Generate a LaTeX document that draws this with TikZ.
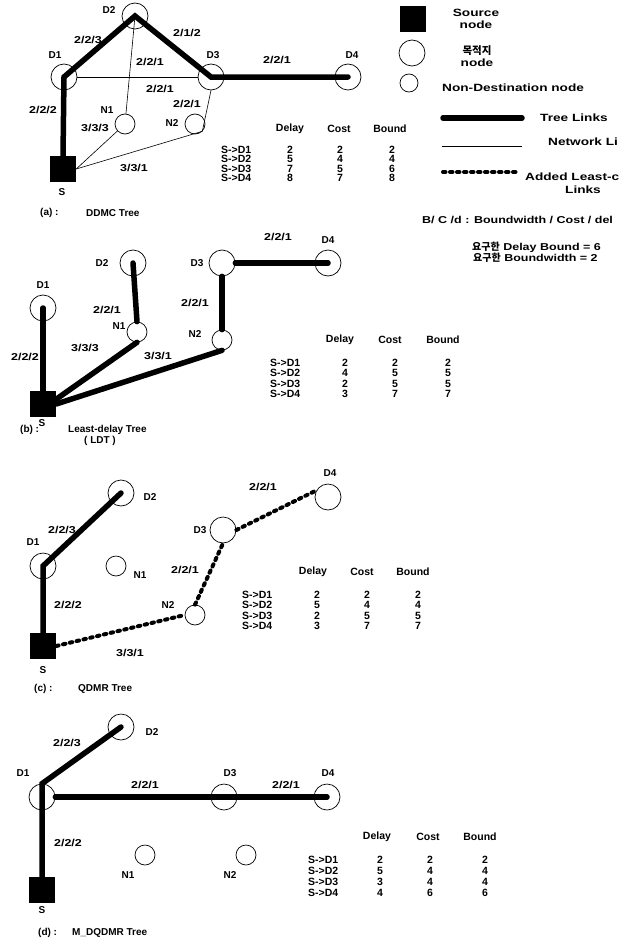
\documentclass[tikz,border=0pt]{standalone}
\usepackage{fontspec}
\setmainfont{Liberation Sans}
\newfontfamily\widefont[FakeStretch=1.25]{Liberation Sans}
\newfontfamily\legfont[FakeStretch=1.3]{Liberation Sans}
\newfontfamily\kofont{Noto Sans CJK KR}

\tikzset{
  dest/.style={circle, draw, line width=0.7pt, minimum size=26pt, inner sep=0pt},
  nondest/.style={circle, draw, line width=0.7pt, minimum size=20pt, inner sep=0pt},
  source/.style={rectangle, fill=black, minimum size=26pt, inner sep=0pt},
  tree link/.style={line width=5.5pt, line cap=round},
  net link/.style={line width=0.6pt},
  added link/.style={line width=4pt, line cap=round, dash pattern=on 2.5pt off 4.5pt},
  nname/.style={font=\bfseries\fontsize{10}{12}\selectfont, inner sep=1pt},
  wlabel/.style={font=\widefont\bfseries\fontsize{10}{12}\selectfont, inner sep=1pt},
  lgtext/.style={font=\legfont\bfseries\fontsize{10.5}{12.5}\selectfont, inner sep=1pt},
  tabtxt/.style={font=\bfseries\fontsize{10.5}{12}\selectfont, inner sep=0pt},
  capt/.style={font=\bfseries\fontsize{10}{12}\selectfont, anchor=west, inner sep=0pt}
}

\begin{document}
\begin{tikzpicture}[x=1pt, y=-1pt]
  \useasboundingbox (0,0) rectangle (622,942);
  \clip (0,0) rectangle (622,942);

  % legend
  \node[source] (lgs) at (413,19) {};
  \node[lgtext, align=center] (lgst) at (476,19) {Source\\node};
  \node[dest] (lgd) at (412,53) {};
  \node[lgtext, align=center] (lgdt) at (477,56) {{\kofont\bfseries 목적지}\\node};
  \node[nondest, minimum size=18pt] (lgn) at (409,83) {};
  \node[lgtext, anchor=west] (lgnt) at (441,88) {Non-Destination node};
  \coordinate (lgt1) at (443,118);
  \coordinate (lgt2) at (522,118);
  \draw[tree link] (lgt1) -- (lgt2);
  \node[lgtext, anchor=west] (lgtt) at (539,118) {Tree Links};
  \coordinate (lgw1) at (442,146);
  \coordinate (lgw2) at (522,146);
  \draw[net link] (lgw1) -- (lgw2);
  \node[lgtext, anchor=west] (lgwt) at (547,142) {Network Li};
  \coordinate (lga1) at (443,172);
  \coordinate (lga2) at (518,172);
  \draw[added link] (lga1) -- (lga2);
  \node[lgtext, anchor=west] (lgat) at (524,177) {Added Least-c};
  \node[lgtext] (lgat2) at (583,190) {Links};
  \node[wlabel, anchor=west] (lgbcd) at (421,220) {B/ C /d : Boundwidth / Cost / del};
  \node[wlabel, anchor=west] (reqd) at (471,247) {{\kofont\bfseries 요구한} Delay Bound = 6};
  \node[wlabel, anchor=west] (reqb) at (472,258) {{\kofont\bfseries 요구한} Boundwidth = 2};

  % (a) DDMC tree
  \node[dest] (ad1) at (64,77) {};
  \node[dest] (ad2) at (135,16) {};
  \node[dest] (ad3) at (211,77) {};
  \node[dest] (ad4) at (348,77) {};
  \node[nondest] (an1) at (125,124) {};
  \node[nondest] (an2) at (195,124) {};
  \node[source] (as) at (63,169) {};
  \node[nname] (ad1t) at (55,55) {D1};
  \node[nname] (ad2t) at (109,10) {D2};
  \node[nname] (ad3t) at (213,55) {D3};
  \node[nname] (ad4t) at (352,55) {D4};
  \node[nname] (an1t) at (107,110) {N1};
  \node[nname] (an2t) at (172,123) {N2};
  \node[nname] (ast) at (62,192) {S};
  \draw[net link] (ad1) -- (ad3);
  \draw[net link] (ad2.center) -- (an1);
  \draw[net link] (an1) -- (as.east);
  \draw[net link] (as.east) -- (an2.south east) -- (ad3.south);
  \draw[tree link] (as.north) -- (ad1.center) -- (ad2.center) -- (ad3.center) -- (ad4.center);
  \node[wlabel] (al1) at (88,40) {2/2/3};
  \node[wlabel] (al2) at (187,33) {2/1/2};
  \node[wlabel] (al3) at (150,62) {2/2/1};
  \node[wlabel] (al4) at (160,89) {2/2/1};
  \node[wlabel] (al5) at (277,60) {2/2/1};
  \node[wlabel] (al6) at (187,104) {2/2/1};
  \node[wlabel] (al7) at (43,110) {2/2/2};
  \node[wlabel] (al8) at (95,128) {3/3/3};
  \node[wlabel] (al9) at (134,168) {3/3/1};
  \node[tabtxt] (ahd) at (290,129) {Delay};
  \node[tabtxt] (ahc) at (339,129) {Cost};
  \node[tabtxt] (ahb) at (390,129) {Bound};
  \foreach \dst/\dl/\co/\bd [count=\i] in {D1/2/2/2, D2/5/4/4, D3/7/5/6, D4/8/7/8} {
    \node[tabtxt, anchor=west] (ar\i) at (221,{140+9.5*\i}) {S->\dst};
    \node[tabtxt] (ard\i) at (290,{140+9.5*\i}) {\dl};
    \node[tabtxt] (arc\i) at (340,{140+9.5*\i}) {\co};
    \node[tabtxt] (arb\i) at (392,{140+9.5*\i}) {\bd};
  }
  \node[capt] (acap) at (40,213) {(a) :};
  \node[capt] (acapt) at (86,213) {DDMC Tree};

  % (b) least-delay tree
  \node[dest] (bd1) at (43,308) {};
  \node[dest] (bd2) at (133,263) {};
  \node[dest] (bd3) at (222,263) {};
  \node[dest] (bd4) at (328,263) {};
  \node[nondest] (bn1) at (137,332) {};
  \node[nondest] (bn2) at (222,340) {};
  \node[source] (bs) at (43,404) {};
  \node[nname] (bd1t) at (43,285) {D1};
  \node[nname] (bd2t) at (102,263) {D2};
  \node[nname] (bd3t) at (197,263) {D3};
  \node[nname] (bd4t) at (328,240) {D4};
  \node[nname] (bn1t) at (119,326) {N1};
  \node[nname] (bn2t) at (195,334) {N2};
  \node[nname] (bst) at (42,423) {S};
  \draw[tree link] (bs.north) -- (bd1.center);
  \draw[tree link] (bs.20) -- (bn1.south);
  \draw[tree link] (bs.east) -- (bn2.south);
  \draw[tree link] (bn1.north) -- (bd2.center);
  \draw[tree link] (bn2.north) -- (bd3.south);
  \draw[tree link] (bd3.east) -- (bd4.center);
  \node[wlabel] (bl1) at (25,357) {2/2/2};
  \node[wlabel] (bl2) at (85,348) {3/3/3};
  \node[wlabel] (bl3) at (158,356) {3/3/1};
  \node[wlabel] (bl4) at (107,310) {2/2/1};
  \node[wlabel] (bl5) at (195,303) {2/2/1};
  \node[wlabel] (bl6) at (278,237) {2/2/1};
  \node[tabtxt] (bhd) at (340,340) {Delay};
  \node[tabtxt] (bhc) at (390,340) {Cost};
  \node[tabtxt] (bhb) at (443,340) {Bound};
  \foreach \dst/\dl/\co/\bd [count=\i] in {D1/2/2/2, D2/4/5/5, D3/2/5/5, D4/3/7/7} {
    \node[tabtxt, anchor=west] (br\i) at (270,{352+10.5*\i}) {S->\dst};
    \node[tabtxt] (brd\i) at (345,{352+10.5*\i}) {\dl};
    \node[tabtxt] (brc\i) at (395,{352+10.5*\i}) {\co};
    \node[tabtxt] (brb\i) at (448,{352+10.5*\i}) {\bd};
  }
  \node[capt] (bcap) at (20,430) {(b) :};
  \node[capt] (bcapt) at (68,430) {Least-delay Tree};
  \node[capt, anchor=center] (bcapt2) at (100,441) {( LDT )};

  % (c) QDMR tree
  \node[dest] (cd1) at (43,566) {};
  \node[dest] (cd2) at (121,493) {};
  \node[dest] (cd3) at (223,530) {};
  \node[dest] (cd4) at (328,497) {};
  \node[nondest] (cn1) at (116,566) {};
  \node[nondest] (cn2) at (195,615) {};
  \node[source] (cs) at (43,646) {};
  \node[nname] (cd1t) at (33,542) {D1};
  \node[nname] (cd2t) at (150,497) {D2};
  \node[nname] (cd3t) at (200,530) {D3};
  \node[nname] (cd4t) at (330,473) {D4};
  \node[nname] (cn1t) at (140,575) {N1};
  \node[nname] (cn2t) at (168,605) {N2};
  \node[nname] (cst) at (43,670) {S};
  \draw[tree link] (cs.north) -- (cd1.center) -- (cd2.center);
  \draw[added link] (cs.east) -- (cn2.west);
  \draw[added link] (cn2.north) -- (cd3.south);
  \draw[added link] (cd3.east) -- (cd4.150);
  \node[wlabel] (cl1) at (62,530) {2/2/3};
  \node[wlabel] (cl2) at (68,605) {2/2/2};
  \node[wlabel] (cl3) at (130,653) {3/3/1};
  \node[wlabel] (cl4) at (185,570) {2/2/1};
  \node[wlabel] (cl5) at (263,487) {2/2/1};
  \node[tabtxt] (chd) at (313,572) {Delay};
  \node[tabtxt] (chc) at (362,572) {Cost};
  \node[tabtxt] (chb) at (413,572) {Bound};
  \foreach \dst/\dl/\co/\bd [count=\i] in {D1/2/2/2, D2/5/4/4, D3/2/5/5, D4/3/7/7} {
    \node[tabtxt, anchor=west] (cr\i) at (242,{584+10.5*\i}) {S->\dst};
    \node[tabtxt] (crd\i) at (317,{584+10.5*\i}) {\dl};
    \node[tabtxt] (crc\i) at (367,{584+10.5*\i}) {\co};
    \node[tabtxt] (crb\i) at (418,{584+10.5*\i}) {\bd};
  }
  \node[capt] (ccap) at (34,689) {(c) :};
  \node[capt] (ccapt) at (78,689) {QDMR Tree};

  % (d) M_DQDMR tree
  \node[dest] (dd1) at (42,797) {};
  \node[dest] (dd2) at (121,727) {};
  \node[dest] (dd3) at (224,797) {};
  \node[dest] (dd4) at (327,797) {};
  \node[nondest] (dn1) at (145,855) {};
  \node[nondest] (dn2) at (246,855) {};
  \node[source] (ds) at (42,890) {};
  \node[nname] (dd1t) at (23,773) {D1};
  \node[nname] (dd2t) at (152,732) {D2};
  \node[nname] (dd3t) at (230,773) {D3};
  \node[nname] (dd4t) at (328,773) {D4};
  \node[nname] (dn1t) at (128,875) {N1};
  \node[nname] (dn2t) at (230,875) {N2};
  \node[nname] (dst) at (42,910) {S};
  \draw[tree link] (ds.north) -- (dd1.north) -- (dd2.center);
  \draw[tree link] (dd1.east) -- (dd4.center);
  \node[wlabel] (dl1) at (67,743) {2/2/3};
  \node[wlabel] (dl2) at (145,785) {2/2/1};
  \node[wlabel] (dl3) at (286,785) {2/2/1};
  \node[wlabel] (dl4) at (68,843) {2/2/2};
  \node[tabtxt] (dhd) at (377,837) {Delay};
  \node[tabtxt] (dhc) at (428,837) {Cost};
  \node[tabtxt] (dhb) at (480,837) {Bound};
  \foreach \dst/\dl/\co/\bd [count=\i] in {D1/2/2/2, D2/5/4/4, D3/3/4/4, D4/4/6/6} {
    \node[tabtxt, anchor=west] (dr\i) at (308,{849+11*\i}) {S->\dst};
    \node[tabtxt] (drd\i) at (380,{849+11*\i}) {\dl};
    \node[tabtxt] (drc\i) at (430,{849+11*\i}) {\co};
    \node[tabtxt] (drb\i) at (485,{849+11*\i}) {\bd};
  }
  \node[capt] (dcap) at (38,933) {(d) :};
  \node[capt] (dcapt) at (72,933) {M\_DQDMR Tree};
\end{tikzpicture}
\end{document}
